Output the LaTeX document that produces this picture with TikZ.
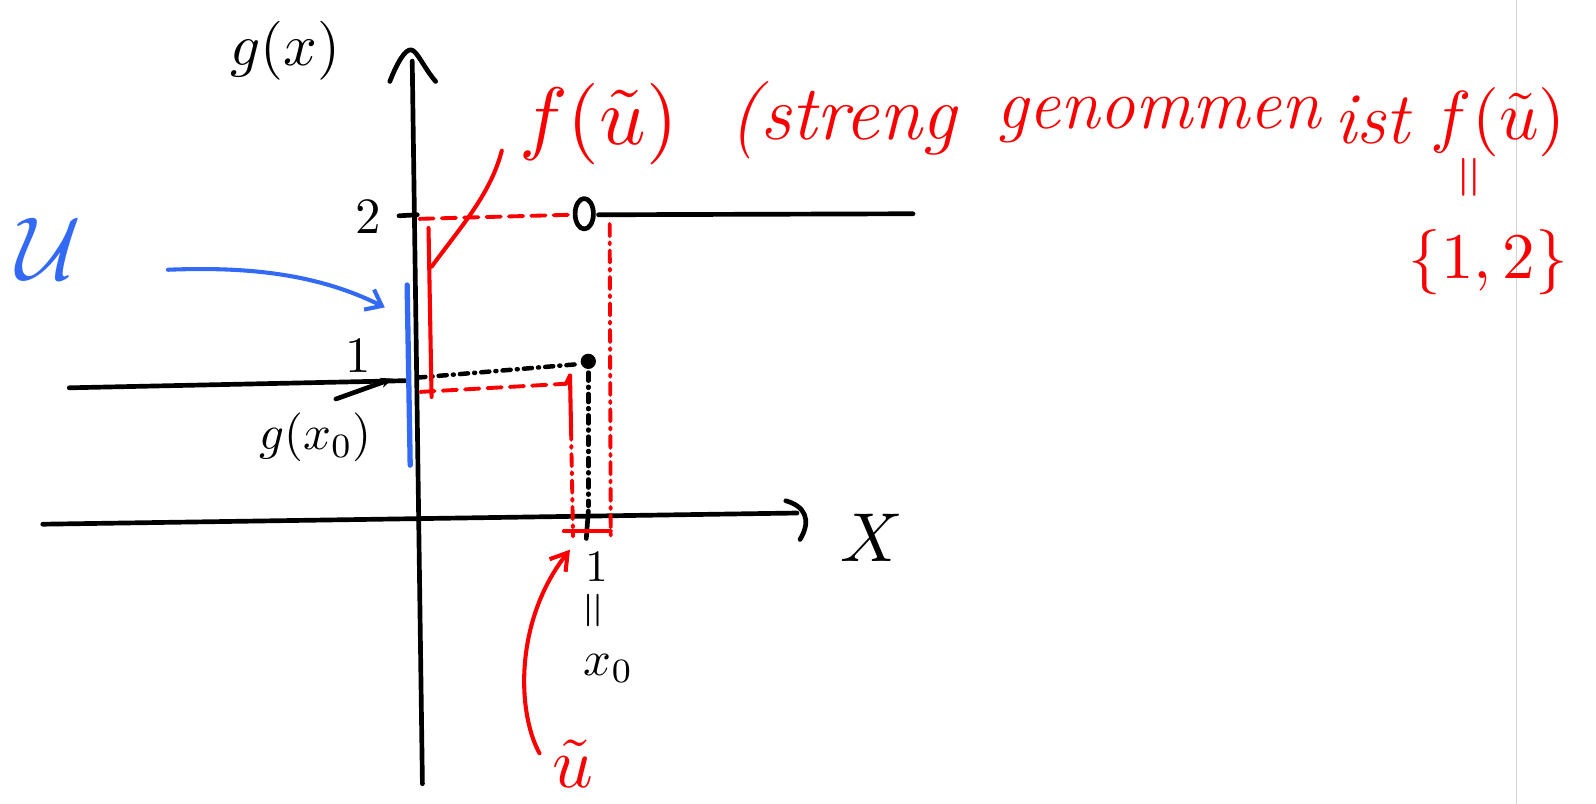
\documentclass[tikz,border=0pt]{standalone}
\usetikzlibrary{arrows.meta}
\definecolor{hred}{RGB}{250,0,0}
\definecolor{hblue}{RGB}{50,105,245}
\newcommand{\mth}[2]{\scalebox{#1}{$#2$}}
\begin{document}
\begin{tikzpicture}[x=0.5pt,y=-0.5pt,line cap=round,line join=round,
  ink/.style={line width=2.3pt},
  redink/.style={hred,line width=2pt},
  reddash/.style={hred,line width=1.9pt,dash pattern=on 7pt off 4pt},
  reddashdot/.style={hred,line width=1.9pt,dash pattern=on 6pt off 3pt on 1pt off 3pt},
  blkdot/.style={line width=2.2pt,dash pattern=on 4pt off 3pt on 0.5pt off 3pt},
  lbl/.style={inner sep=0pt,anchor=center}]
\useasboundingbox (0,0) rectangle (1568,789);
\fill[white] (0,0) rectangle (1568,789);
\draw[gray!35,line width=0.8pt] (1490,0) -- (1490,789);

% coordinates
\coordinate (yb) at (415,770);
\coordinate (yt) at (405,60);
\coordinate (xl) at (42,515);
\coordinate (xr) at (783,504);
\coordinate (l1a) at (68,381);
\coordinate (l1b) at (398,374);
\coordinate (l2a) at (588,211);
\coordinate (l2b) at (897,210);
\coordinate (dot) at (578,355);
\coordinate (x0t) at (578,502);
\coordinate (x0b) at (576,529);

% axes
\draw[ink] (yb) -- (yt);
\draw[ink] (383,80) .. controls (390,62) and (398,48) .. (404,49) .. controls (410,50) and (416,66) .. (428,80);
\draw[ink] (xl) -- (xr);
\draw[ink] (772,492) .. controls (790,497) and (798,510) .. (786,530);
\node[lbl] (X) at (857,528) {\mth{3.4}{X}};
\node[lbl] (gx) at (280,50) {\mth{2.9}{g(x)}};

% step function pieces
\draw[ink] (l1a) -- (l1b);
\draw[ink] (l2a) -- (l2b);
\draw[ink] (574,210) ellipse (9 and 15);
\fill (dot) circle (7.5);
\draw[ink] (392,212) -- (410,211);
\node[lbl] (two) at (362,213) {\mth{2.5}{2}};
\node[lbl] (one) at (352,350) {\mth{2.5}{1}};
\node[lbl] (gx0) at (310,430) {\mth{2.4}{g(x_0)}};
\draw[ink,-{Stealth[length=6pt,width=5pt]}] (330,392) -- (386,372);

% black dotted guides
\draw[blkdot] (410,371) -- (565,358);
\draw[blkdot] (578,366) -- (578,497);
\draw[ink] (x0b) -- (x0t);
\node[lbl] (xone) at (586,557) {\mth{2.2}{1}};
\node[lbl,rotate=90] (xeq) at (586,600) {\mth{2.4}{=}};
\node[lbl] (xzero) at (598,657) {\mth{2.4}{x_0}};

% red construction
\draw[reddash] (412,215) -- (560,211);
\draw[reddashdot] (599,220) -- (600,526);
\draw[reddash] (413,385) -- (556,377);
\draw[redink] (556,377) -- (560,369);
\draw[redink] (560,369) -- (561,420);
\draw[reddashdot] (561,420) -- (563,527);
\draw[redink] (554,522) -- (600,522);
\draw[redink] (421,224) -- (424,390);
\draw[redink] (493,148) .. controls (482,190) and (455,220) .. (424,262);

% red annotation text
\node[lbl,hred] (fu) at (588,122) {\mth{4}{f(\tilde u)}};
\node[lbl,hred,font=\fontsize{38}{38}\selectfont\itshape] (w1) at (828,118) {(streng};
\node[lbl,hred,font=\fontsize{35}{35}\selectfont\itshape] (w2) at (1138,118) {genommen};
\node[lbl,hred,font=\fontsize{36}{36}\selectfont\itshape] (w3) at (1348,118) {ist};
\node[lbl,hred] (fu2) at (1472,120) {\mth{3.4}{f(\tilde u)}};
\node[lbl,hred,rotate=90] (eq2) at (1447,174) {\mth{2.8}{=}};
\node[lbl,hred] (set) at (1462,258) {\mth{3.2}{\{1{,}\,2\}}};

% red u tilde with arrow
\node[lbl,hred] (ut) at (563,750) {\mth{3.5}{\tilde u}};
\draw[redink,-{Straight Barb[length=8pt,width=10pt]}] (530,740) .. controls (508,700) and (505,610) .. (560,540);

% blue set U
\node[lbl,hblue] (U) at (48,245) {\mth{4.4}{\mathcal{U}}};
\draw[hblue,line width=2.6pt] (400,280) -- (403,457);
\draw[hblue,line width=2pt,-{Straight Barb[length=7pt,width=11pt]}] (165,265) .. controls (240,262) and (310,268) .. (378,302);
\end{tikzpicture}
\end{document}
